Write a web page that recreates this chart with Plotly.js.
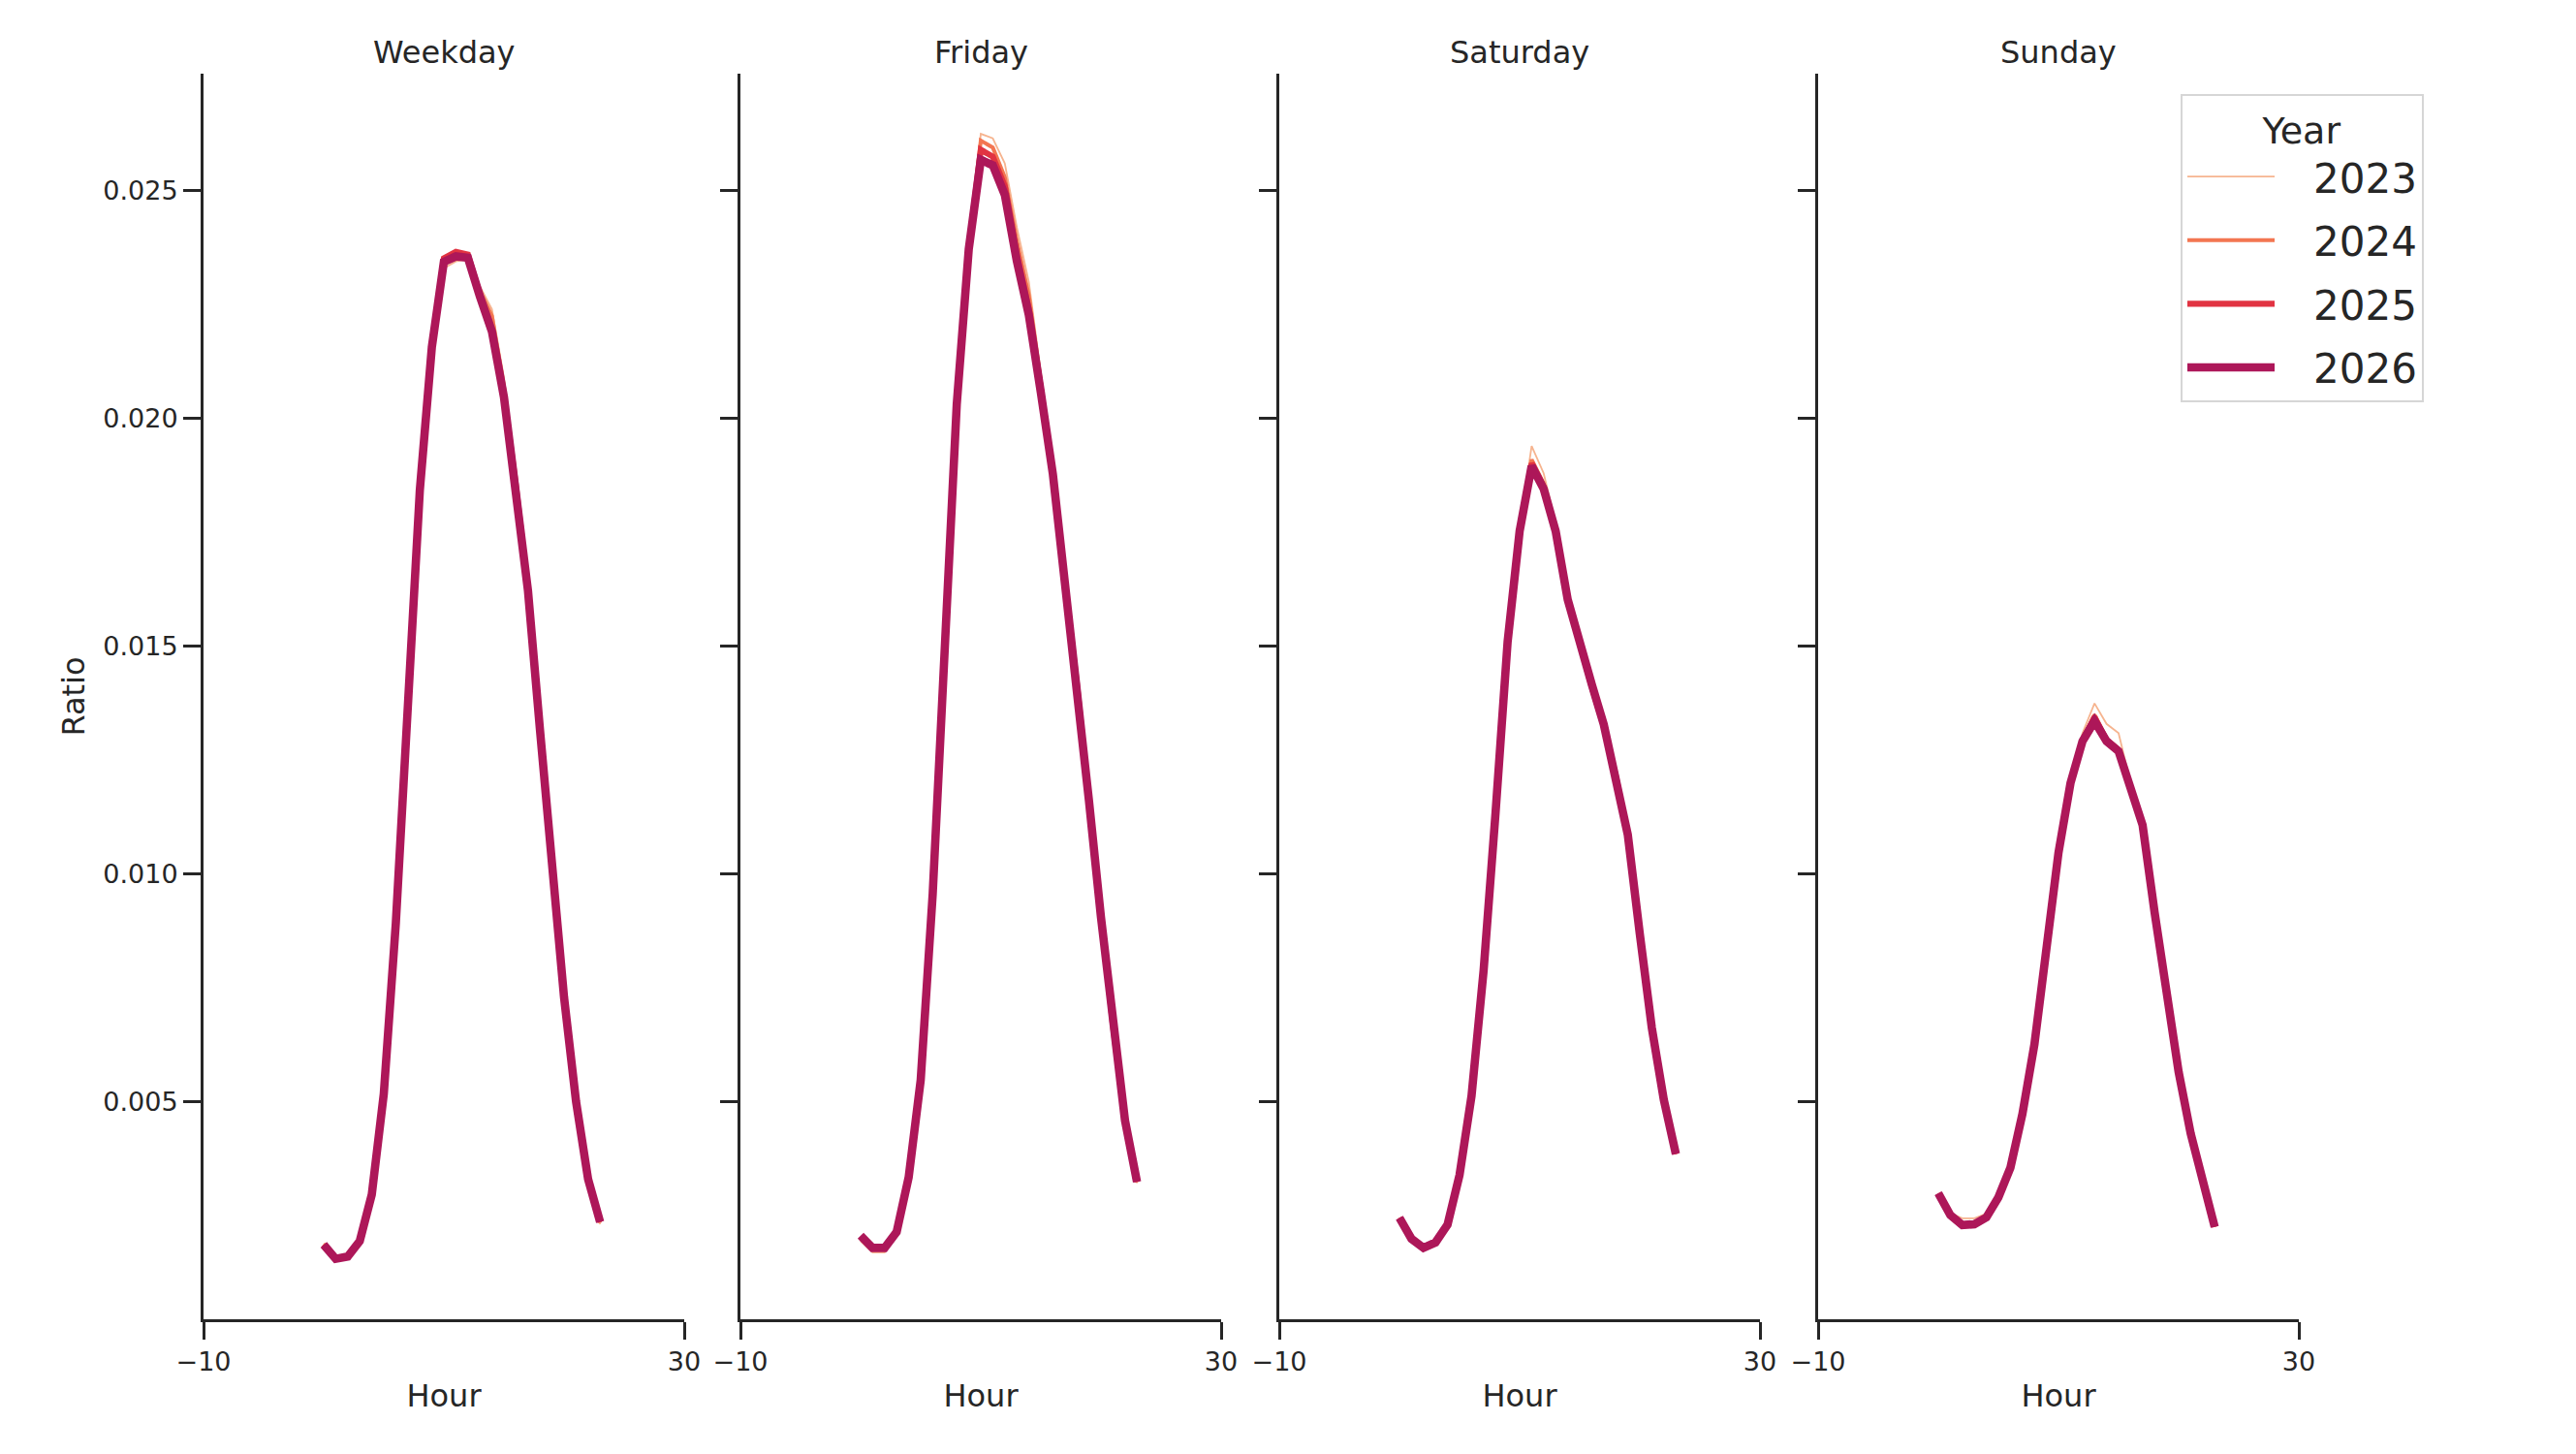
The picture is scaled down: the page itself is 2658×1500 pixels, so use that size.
<!DOCTYPE html>
<html>
<head>
<meta charset="utf-8">
<script src="https://cdn.plot.ly/plotly-3.0.1.min.js"></script>
<style>
  html, body { margin: 0; padding: 0; background: #ffffff; }
  #chart { width: 2658px; height: 1500px; }
</style>
</head>
<body>
<div id="chart"></div>
<script>
// hour of day, shared by every panel
const hours = [0, 1, 2, 3, 4, 5, 6, 7, 8, 9, 10, 11, 12, 13, 14, 15, 16, 17, 18, 19, 20, 21, 22, 23];

const panels = ['Weekday', 'Friday', 'Saturday', 'Sunday'];
const years = ['2023', '2024', '2025', '2026'];

// ratio of trips per hour
const weekday2023 = [0.00190, 0.00158, 0.00160, 0.00196, 0.00298, 0.00520, 0.00890, 0.01390, 0.01840, 0.02150, 0.02330, 0.02345, 0.02350, 0.02290, 0.02240, 0.02090, 0.01875, 0.01635, 0.01320, 0.01030, 0.00732, 0.00500, 0.00330, 0.00232];
const weekday2024 = [0.00188, 0.00157, 0.00161, 0.00195, 0.00297, 0.00519, 0.00891, 0.01392, 0.01842, 0.02155, 0.02342, 0.02355, 0.02355, 0.02280, 0.02225, 0.02070, 0.01862, 0.01628, 0.01318, 0.01029, 0.00731, 0.00501, 0.00331, 0.00235];
const weekday2025 = [0.00187, 0.00156, 0.00161, 0.00195, 0.00297, 0.00518, 0.00892, 0.01393, 0.01843, 0.02158, 0.02352, 0.02366, 0.02360, 0.02272, 0.02195, 0.02050, 0.01852, 0.01622, 0.01316, 0.01028, 0.00730, 0.00501, 0.00331, 0.00237];
const weekday2026 = [0.00187, 0.00156, 0.00161, 0.00195, 0.00297, 0.00518, 0.00892, 0.01393, 0.01843, 0.02157, 0.02344, 0.02356, 0.02353, 0.02268, 0.02191, 0.02047, 0.01851, 0.01622, 0.01316, 0.01028, 0.00730, 0.00501, 0.00331, 0.00237];

const friday2023 = [0.00195, 0.00170, 0.00170, 0.00210, 0.00333, 0.00546, 0.00955, 0.01500, 0.02030, 0.02375, 0.02625, 0.02615, 0.02560, 0.02420, 0.02300, 0.02100, 0.01900, 0.01650, 0.01420, 0.01165, 0.00908, 0.00668, 0.00462, 0.00322];
const friday2024 = [0.00200, 0.00176, 0.00176, 0.00213, 0.00334, 0.00547, 0.00956, 0.01502, 0.02031, 0.02374, 0.02610, 0.02595, 0.02530, 0.02390, 0.02270, 0.02080, 0.01890, 0.01645, 0.01418, 0.01163, 0.00907, 0.00667, 0.00463, 0.00324];
const friday2025 = [0.00205, 0.00179, 0.00179, 0.00214, 0.00335, 0.00548, 0.00957, 0.01503, 0.02031, 0.02373, 0.02590, 0.02575, 0.02510, 0.02360, 0.02240, 0.02065, 0.01882, 0.01640, 0.01417, 0.01162, 0.00906, 0.00667, 0.00463, 0.00325];
const friday2026 = [0.00207, 0.00180, 0.00180, 0.00215, 0.00335, 0.00548, 0.00957, 0.01503, 0.02031, 0.02372, 0.02568, 0.02556, 0.02491, 0.02346, 0.02227, 0.02057, 0.01878, 0.01639, 0.01417, 0.01162, 0.00906, 0.00667, 0.00460, 0.00325];

const saturday2023 = [0.00246, 0.00200, 0.00178, 0.00190, 0.00230, 0.00338, 0.00512, 0.00786, 0.01135, 0.01512, 0.01760, 0.01940, 0.01880, 0.01770, 0.01600, 0.01490, 0.01395, 0.01310, 0.01210, 0.01085, 0.00868, 0.00662, 0.00505, 0.00386];
const saturday2024 = [0.00246, 0.00200, 0.00179, 0.00191, 0.00230, 0.00339, 0.00513, 0.00787, 0.01136, 0.01511, 0.01756, 0.01910, 0.01858, 0.01760, 0.01602, 0.01498, 0.01405, 0.01318, 0.01213, 0.01086, 0.00868, 0.00663, 0.00505, 0.00386];
const saturday2025 = [0.00246, 0.00200, 0.00180, 0.00191, 0.00231, 0.00340, 0.00514, 0.00788, 0.01136, 0.01510, 0.01754, 0.01902, 0.01850, 0.01755, 0.01603, 0.01502, 0.01412, 0.01325, 0.01216, 0.01087, 0.00869, 0.00663, 0.00505, 0.00386];
const saturday2026 = [0.00246, 0.00200, 0.00180, 0.00192, 0.00231, 0.00340, 0.00514, 0.00788, 0.01136, 0.01510, 0.01753, 0.01896, 0.01846, 0.01753, 0.01603, 0.01504, 0.01417, 0.01329, 0.01217, 0.01087, 0.00869, 0.00663, 0.00505, 0.00386];

const sunday2023 = [0.00298, 0.00256, 0.00245, 0.00245, 0.00255, 0.00294, 0.00357, 0.00474, 0.00627, 0.00848, 0.01052, 0.01212, 0.01310, 0.01375, 0.01330, 0.01310, 0.01200, 0.01110, 0.00918, 0.00733, 0.00566, 0.00431, 0.00322, 0.00226];
const sunday2024 = [0.00299, 0.00253, 0.00234, 0.00236, 0.00250, 0.00292, 0.00356, 0.00474, 0.00627, 0.00847, 0.01048, 0.01203, 0.01296, 0.01350, 0.01298, 0.01276, 0.01192, 0.01108, 0.00916, 0.00732, 0.00566, 0.00431, 0.00322, 0.00226];
const sunday2025 = [0.00300, 0.00252, 0.00231, 0.00233, 0.00248, 0.00291, 0.00356, 0.00474, 0.00627, 0.00846, 0.01047, 0.01201, 0.01293, 0.01345, 0.01294, 0.01272, 0.01191, 0.01108, 0.00916, 0.00732, 0.00566, 0.00431, 0.00322, 0.00226];
const sunday2026 = [0.00300, 0.00252, 0.00230, 0.00232, 0.00247, 0.00291, 0.00356, 0.00474, 0.00627, 0.00846, 0.01047, 0.01200, 0.01292, 0.01336, 0.01292, 0.01270, 0.01191, 0.01108, 0.00916, 0.00732, 0.00566, 0.00431, 0.00322, 0.00226];

const series = [
  [weekday2023, weekday2024, weekday2025, weekday2026],
  [friday2023, friday2024, friday2025, friday2026],
  [saturday2023, saturday2024, saturday2025, saturday2026],
  [sunday2023, sunday2024, sunday2025, sunday2026]
];

const yearColors = ['#f6b48f', '#f37651', '#e13342', '#ad1759'];
const yearWidths = [1.8, 4, 6.2, 8.6];

const ink = '#262626';
const font = 'DejaVu Sans, Liberation Sans, sans-serif';
const W = 2658, H = 1500;

// panel edges in pixels
const panelLeft = [210, 764, 1320, 1876];
const panelWidth = 496;
const plotTop = 76, plotBottom = 1361;

const traces = [];
for (let p = 0; p < panels.length; p++) {
  for (let k = 0; k < years.length; k++) {
    traces.push({
      x: hours,
      y: series[p][k],
      type: 'scatter',
      mode: 'lines',
      // a little gap between the legend line and its label
      name: '\u00a0\u00a0\u2009' + years[k],
      legendgroup: years[k],
      showlegend: p === 0,
      line: {color: yearColors[k], width: yearWidths[k]},
      xaxis: p === 0 ? 'x' : 'x' + (p + 1),
      yaxis: p === 0 ? 'y' : 'y' + (p + 1),
      hoverinfo: 'skip'
    });
  }
}

const layout = {
  width: W,
  height: H,
  margin: {l: 0, r: 0, t: 0, b: 0, pad: 0},
  paper_bgcolor: '#ffffff',
  plot_bgcolor: '#ffffff',
  font: {family: font, color: ink, size: 27},
  showlegend: true,
  legend: {
    x: 2250 / W,
    y: 1 - 97 / H,
    xanchor: 'left',
    yanchor: 'top',
    bgcolor: '#ffffff',
    bordercolor: '#d6d6d6',
    borderwidth: 2,
    font: {family: font, size: 42, color: ink},
    title: {text: 'Year', side: 'top center', font: {family: font, size: 38, color: ink}},
    itemwidth: 90,
    tracegroupgap: 8
  },
  annotations: []
};

for (let p = 0; p < panels.length; p++) {
  const xa = p === 0 ? 'xaxis' : 'xaxis' + (p + 1);
  const ya = p === 0 ? 'yaxis' : 'yaxis' + (p + 1);
  const yId = p === 0 ? 'y' : 'y' + (p + 1);
  const xId = p === 0 ? 'x' : 'x' + (p + 1);
  const x0 = panelLeft[p] / W, x1 = (panelLeft[p] + panelWidth) / W;
  layout[xa] = {
    domain: [x0, x1],
    anchor: yId,
    range: [-10, 30],
    tickvals: [-10, 30],
    ticks: 'outside',
    ticklen: 18,
    tickwidth: 3,
    tickcolor: ink,
    showline: true,
    linewidth: 3,
    linecolor: ink,
    showgrid: false,
    zeroline: false,
    tickfont: {family: font, size: 27, color: ink},
    title: {text: 'Hour', font: {family: font, size: 32, color: ink}, standoff: 10},
    automargin: false
  };
  layout[ya] = {
    domain: [1 - plotBottom / H, 1 - plotTop / H],
    anchor: xId,
    range: [0.000234, 0.02757],
    tickvals: [0.005, 0.010, 0.015, 0.020, 0.025],
    tickformat: '.3f',
    ticks: 'outside',
    ticklen: 18,
    tickwidth: 3,
    tickcolor: ink,
    showline: true,
    linewidth: 3,
    linecolor: ink,
    showgrid: false,
    zeroline: false,
    showticklabels: p === 0,
    tickfont: {family: font, size: 27, color: ink},
    automargin: false
  };
  if (p === 0) {
    layout[ya].title = {text: 'Ratio', font: {family: font, size: 32, color: ink}, standoff: 10};
  }
  layout.annotations.push({
    text: panels[p],
    xref: 'paper', yref: 'paper',
    x: (x0 + x1) / 2,
    y: 1 - 54 / H,
    xanchor: 'center', yanchor: 'middle',
    showarrow: false,
    font: {family: font, size: 32, color: ink}
  });
}

Plotly.newPlot('chart', traces, layout, {displayModeBar: false, staticPlot: true});
</script>
</body>
</html>
